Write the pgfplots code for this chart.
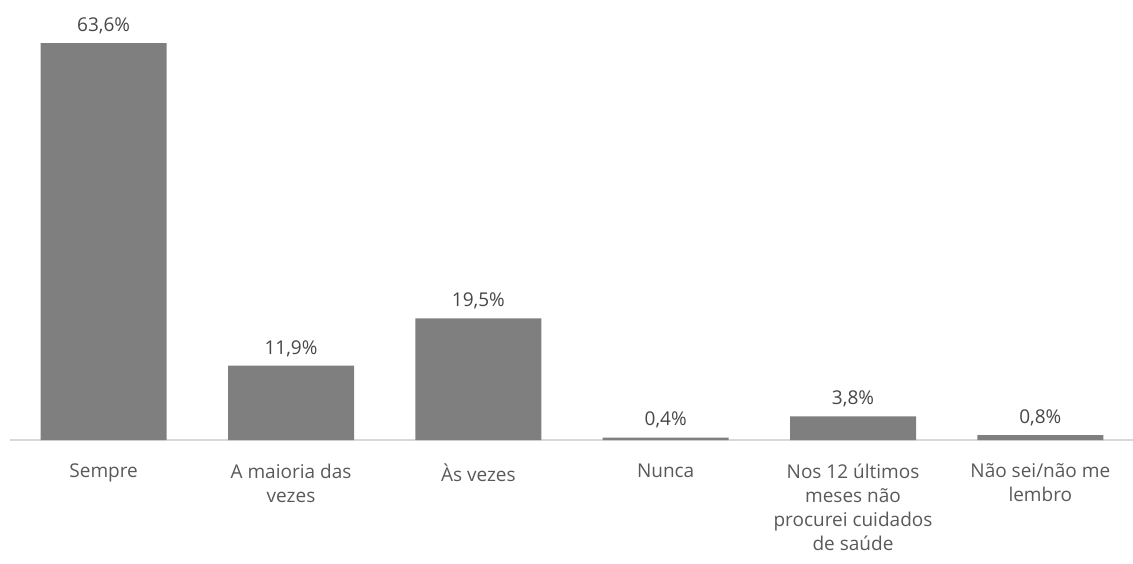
\documentclass[border=0pt]{standalone}
\usepackage{pgfplots}
\pgfplotsset{compat=1.18}
\usepackage{fontspec}
\setmainfont{Open Sans}
\definecolor{barcol}{HTML}{7F7F7F}
\definecolor{axcol}{HTML}{D9D9D9}
\definecolor{txtcol}{HTML}{595959}
\begin{document}
\begin{tikzpicture}
  \begin{axis}[
    scale only axis,
    width=562pt, height=215pt,
    ybar, bar width=63pt,
    xmin=-0.5, xmax=5.5,
    ymin=0, ymax=68.9,
    axis x line*=bottom,
    axis y line=none,
    x axis line style={axcol, line width=0.6pt, -},
    xtick=data, xtick style={draw=none},
    xticklabels={Sempre, A maioria das\\vezes, Às vezes, Nunca,
      Nos 12 últimos\\meses não\\procurei cuidados\\de saúde,
      Não sei/não me\\lembro},
    xticklabel style={align=center, font=\fontsize{9.5}{12}\selectfont,
      text=txtcol, anchor=north, yshift=-4pt},
    /pgf/number format/assume math mode=true,
    nodes near coords={\pgfmathprintnumber[fixed, fixed zerofill,
      precision=1, use comma]{\pgfplotspointmeta}\%},
    nodes near coords style={font=\fontsize{9.5}{12}\selectfont,
      text=txtcol!80!black, anchor=south, yshift=1pt},
    clip=false,
  ]
    \addplot[fill=barcol, draw=none] coordinates {
      (0,63.6) (1,11.9) (2,19.5) (3,0.4) (4,3.8) (5,0.8)};
  \end{axis}
  \pgfresetboundingbox
  \path ([shift={(-5pt,-61.5pt)}]current axis.south west)
    rectangle ([shift={(-0.5pt,5pt)}]current axis.north east);
\end{tikzpicture}
\end{document}
